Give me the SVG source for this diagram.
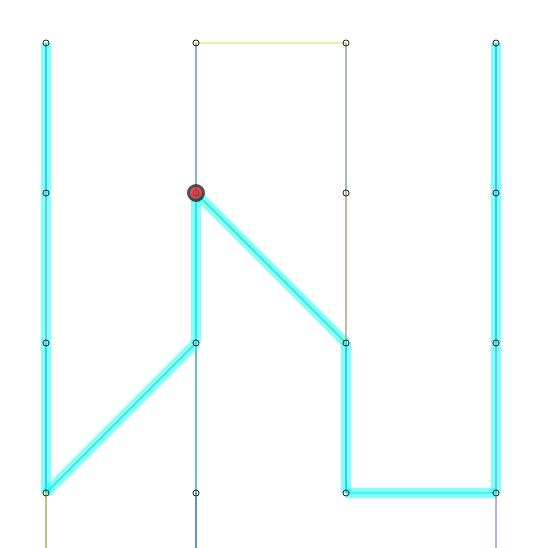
<svg xmlns="http://www.w3.org/2000/svg" width="549" height="548" viewBox="0 0 549 548">
<style>
.e{stroke-width:1.6;fill:none}
.h{stroke:#00ffff;stroke-width:10;opacity:0.5;fill:none}
.n{fill:none;stroke:#222;stroke-width:1}
</style>
<rect width="549" height="548" fill="#fff"/>
<g id="edges">
<line class="e" x1="46" y1="43" x2="46" y2="193" stroke="#3c91b9"/>
<line class="e" x1="46" y1="193" x2="46" y2="343" stroke="#c88282"/>
<line class="e" x1="46" y1="343" x2="46" y2="493" stroke="#4082c2"/>
<line class="e" x1="46" y1="493" x2="46" y2="548" stroke="#a0c060"/>
<line class="e" x1="46" y1="493" x2="196" y2="343" stroke="#80c160"/>
<line class="e" x1="196" y1="43" x2="196" y2="193" stroke="#6a9ec0"/>
<line class="e" x1="196" y1="193" x2="196" y2="343" stroke="#40c180"/>
<line class="e" x1="196" y1="343" x2="196" y2="493" stroke="#40b0b0"/>
<line class="e" x1="196" y1="493" x2="196" y2="548" stroke="#3a78b8"/>
<line class="e" x1="196" y1="43" x2="346" y2="43" stroke="#d8f080"/>
<line class="e" x1="346" y1="43" x2="346" y2="193" stroke="#90a8b0"/>
<line class="e" x1="346" y1="193" x2="346" y2="343" stroke="#c8a080"/>
<line class="e" x1="196" y1="193" x2="346" y2="343" stroke="#80c160"/>
<line class="e" x1="346" y1="343" x2="346" y2="493" stroke="#4082c2"/>
<line class="e" x1="346" y1="493" x2="496" y2="493" stroke="#60e0c0"/>
<line class="e" x1="496" y1="43" x2="496" y2="193" stroke="#7060d0"/>
<line class="e" x1="496" y1="193" x2="496" y2="343" stroke="#4082c2"/>
<line class="e" x1="496" y1="343" x2="496" y2="493" stroke="#c08282"/>
<line class="e" x1="496" y1="493" x2="496" y2="548" stroke="#a8a0e0"/>
</g>
<g id="highlight">
<line class="h" x1="46" y1="43" x2="46" y2="493"/>
<line class="h" x1="46" y1="493" x2="196" y2="343"/>
<line class="h" x1="196" y1="343" x2="196" y2="193"/>
<line class="h" x1="196" y1="193" x2="346" y2="343"/>
<line class="h" x1="346" y1="343" x2="346" y2="493"/>
<line class="h" x1="346" y1="493" x2="496" y2="493"/>
<line class="h" x1="496" y1="493" x2="496" y2="43"/>
</g>
<g id="n1"><circle class="n" cx="46" cy="43" r="3"/></g>
<g id="n2"><circle class="n" cx="196" cy="43" r="3"/></g>
<g id="n3"><circle class="n" cx="346" cy="43" r="3"/></g>
<g id="n4"><circle class="n" cx="496" cy="43" r="3"/></g>
<g id="n5"><circle class="n" cx="46" cy="193" r="3"/></g>
<g id="n6"><circle class="n" cx="196" cy="193" r="3"/></g>
<g id="n7"><circle class="n" cx="346" cy="193" r="3"/></g>
<g id="n8"><circle class="n" cx="496" cy="193" r="3"/></g>
<g id="n9"><circle class="n" cx="46" cy="343" r="3"/></g>
<g id="n10"><circle class="n" cx="196" cy="343" r="3"/></g>
<g id="n11"><circle class="n" cx="346" cy="343" r="3"/></g>
<g id="n12"><circle class="n" cx="496" cy="343" r="3"/></g>
<g id="n13"><circle class="n" cx="46" cy="493" r="3"/></g>
<g id="n14"><circle class="n" cx="196" cy="493" r="3"/></g>
<g id="n15"><circle class="n" cx="346" cy="493" r="3"/></g>
<g id="n16"><circle class="n" cx="496" cy="493" r="3"/></g>
<g id="marker"><circle cx="196" cy="193" r="7.5" fill="#e8202c" stroke="#222" stroke-width="3" opacity="0.8"/></g>
</svg>
